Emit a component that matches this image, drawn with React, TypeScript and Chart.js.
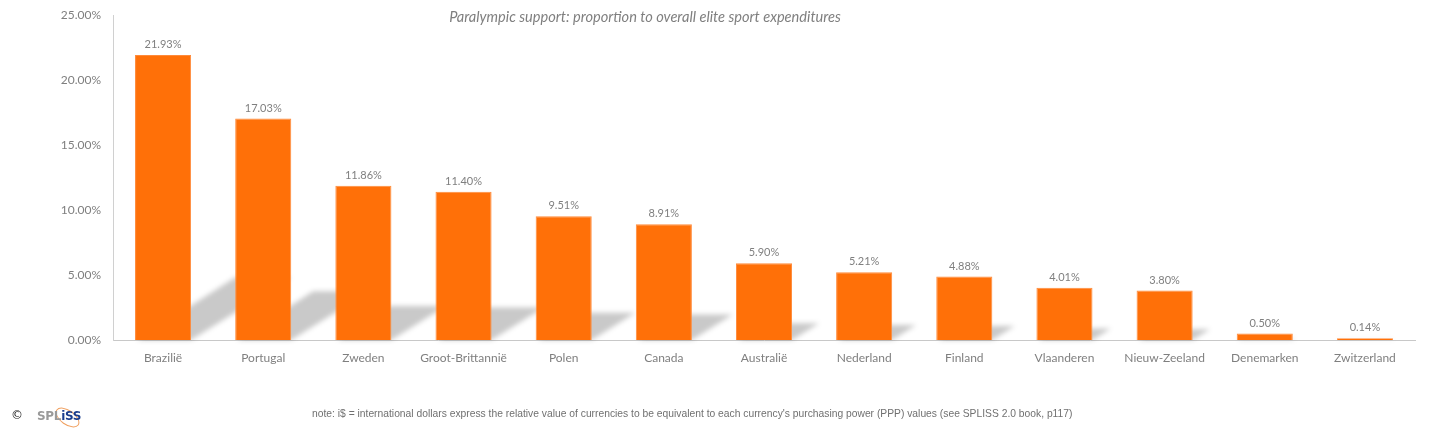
import React, { useEffect, useRef } from "react";
import { Chart, registerables } from "chart.js";

Chart.register(...registerables);

const categories = [
  "Brazilië", "Portugal", "Zweden", "Groot-Brittannië", "Polen", "Canada", "Australië",
  "Nederland", "Finland", "Vlaanderen", "Nieuw-Zeeland", "Denemarken", "Zwitzerland",
];
const values = [21.93, 17.03, 11.86, 11.4, 9.51, 8.91, 5.9, 5.21, 4.88, 4.01, 3.8, 0.5, 0.14];
const yMax = 25;
const yStep = 5;
const titleText = "Paralympic support: proportion to overall elite sport expenditures";
const noteText =
  "note: i$ = international dollars  express the relative value of currencies to be equivalent to each currency's purchasing power (PPP) values (see SPLISS 2.0 book, p117)";

const FONT = "Lato, 'Open Sans', sans-serif";
const GREY = "#7f7f7f";

const shadowPlugin = {
  id: "perspectiveShadow",
  beforeDatasetsDraw(chart: any) {
    const ctx = chart.ctx;
    const meta = chart.getDatasetMeta(0);
    ctx.save();
    ctx.filter = "blur(2.5px)";
    ctx.fillStyle = "rgba(0,0,0,0.21)";
    meta.data.forEach((bar: any) => {
      const p = bar.getProps(["x", "y", "base", "width"], true);
      const h = p.base - p.y;
      const sh = h * 0.22;
      const dx = sh * 1.6;
      const l = p.x - p.width / 2;
      const r = p.x + p.width / 2;
      ctx.beginPath();
      ctx.moveTo(l + 2, p.base);
      ctx.lineTo(r, p.base);
      ctx.lineTo(r + dx, p.base - sh);
      ctx.lineTo(l + dx, p.base - sh);
      ctx.closePath();
      ctx.fill();
    });
    ctx.restore();
  },
};

const labelPlugin = {
  id: "barValueLabels",
  afterDatasetsDraw(chart: any) {
    const ctx = chart.ctx;
    const meta = chart.getDatasetMeta(0);
    ctx.save();
    ctx.font = `11px ${FONT}`;
    ctx.fillStyle = GREY;
    ctx.textAlign = "center";
    ctx.textBaseline = "bottom";
    meta.data.forEach((bar: any, i: number) => {
      const p = bar.getProps(["x", "y"], true);
      ctx.fillText(values[i].toFixed(2) + "%", p.x, p.y - 5);
    });
    ctx.restore();
  },
};

export default function App() {
  const ref = useRef<HTMLCanvasElement | null>(null);

  useEffect(() => {
    document.body.style.margin = "0";
    const canvas = ref.current;
    if (!canvas) return;
    const chart = new Chart(canvas, {
      type: "bar",
      data: {
        labels: categories,
        datasets: [
          {
            data: values,
            backgroundColor: "#FF7008",
            borderColor: "#FF8A3A",
            borderWidth: 1,
            categoryPercentage: 1,
            barPercentage: 0.56,
          },
        ],
      },
      options: {
        animation: false,
        responsive: false,
        maintainAspectRatio: false,
        devicePixelRatio: 1,
        layout: { padding: { top: 15, right: 27, left: 0, bottom: 0 } },
        plugins: {
          legend: { display: false },
          title: { display: false },
          tooltip: { enabled: false },
        },
        scales: {
          x: {
            grid: { display: false, drawTicks: false },
            border: { display: true, color: "#c8c8c8", width: 1 },
            ticks: {
              color: GREY,
              font: { family: FONT, size: 12 },
              padding: 11,
              autoSkip: false,
              maxRotation: 0,
            },
            afterFit(scale: any) {
              scale.height = 88;
              scale.paddingLeft = 0;
              scale.paddingRight = 0;
            },
          },
          y: {
            min: 0,
            max: yMax,
            grid: { display: false, drawTicks: false },
            border: { display: true, color: "#d0d0d0", width: 1 },
            ticks: {
              stepSize: yStep,
              color: GREY,
              font: { family: FONT, size: 12 },
              padding: 12,
              callback: (v: any) => Number(v).toFixed(2) + "%",
            },
            afterFit(scale: any) {
              scale.width = 113;
              scale.paddingTop = 0;
              scale.paddingBottom = 0;
            },
          },
        },
      },
      plugins: [shadowPlugin, labelPlugin],
    });
    return () => chart.destroy();
  }, []);

  return (
    <div style={{ position: "relative", width: 1442, height: 428, background: "#fff", overflow: "hidden" }}>
      <canvas ref={ref} width={1442} height={428} style={{ position: "absolute", left: 0, top: 0 }} />
      <div
        style={{
          position: "absolute",
          left: 395,
          width: 500,
          top: 8,
          textAlign: "center",
          fontFamily: FONT,
          fontStyle: "italic",
          fontSize: 14.6,
          color: GREY,
          whiteSpace: "nowrap",
        }}
      >
        {titleText}
      </div>
      <div
        style={{
          position: "absolute",
          left: 11,
          top: 408,
          fontFamily: "'DejaVu Sans', sans-serif",
          fontSize: 12,
          color: "#222",
        }}
      >
        ©
      </div>
      <div style={{ position: "absolute", left: 37, top: 404, width: 50, height: 24 }}>
        <div
          style={{
            position: "absolute",
            left: 23,
            top: 0,
            width: 13,
            height: 25,
            border: "1px solid #f0a060",
            borderRadius: "50%",
            transform: "rotate(-55deg)",
          }}
        />
        <div
          style={{
            position: "absolute",
            left: 0,
            top: 5,
            fontFamily: "'DejaVu Sans', sans-serif",
            fontWeight: 700,
            fontSize: 12,
            letterSpacing: -0.3,
            whiteSpace: "nowrap",
          }}
        >
          <span style={{ color: "#9a9a9a" }}>SPL</span>
          <span style={{ color: "#1a3c8c" }}>iSS</span>
        </div>
      </div>
      <div
        style={{
          position: "absolute",
          left: 312,
          top: 408,
          fontFamily: "'Liberation Sans Narrow', 'Liberation Sans', sans-serif",
          fontSize: 10.3,
          color: "#707070",
          whiteSpace: "nowrap",
        }}
      >
        {noteText}
      </div>
    </div>
  );
}
